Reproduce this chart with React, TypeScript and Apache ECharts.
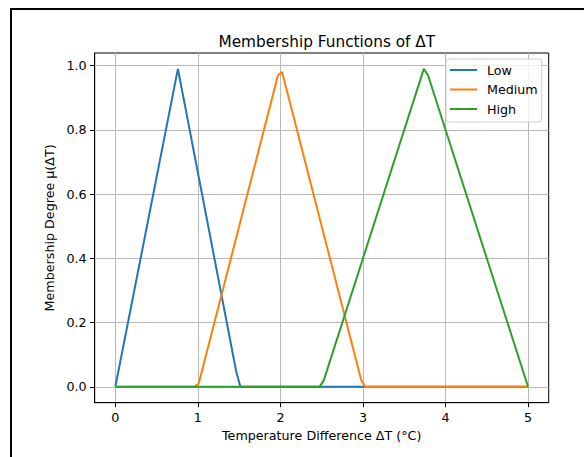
import React, { useEffect, useRef } from "react";
import * as echarts from "echarts";

const seriesNames = ["Low", "Medium", "High"];
const lowX = [0, 0.758, 1.465, 1.515, 5];
const lowY = [0, 0.99, 0.047, 0, 0];
const medX = [0, 0.96, 1.01, 1.97, 2.02, 2.98, 3.03, 5];
const medY = [0, 0, 0.01, 0.97, 0.98, 0.02, 0, 0];
const highX = [0, 2.475, 2.525, 3.737, 3.788, 5];
const highY = [0, 0, 0.02, 0.99, 0.97, 0];
const xTicks = [0, 1, 2, 3, 4, 5];
const yTicks = [0, 0.2, 0.4, 0.6, 0.8, 1.0];

const colors = ["#1f77b4", "#ff7f0e", "#2ca02c"];
const FONT = "DejaVu Sans";

function pairs(xs: number[], ys: number[]) {
  return xs.map((x, i) => [x, ys[i]]);
}

export default function App() {
  const ref = useRef<HTMLDivElement>(null);
  useEffect(() => {
    if (!ref.current) return;
    const chart = echarts.init(ref.current, null, { renderer: "svg" });
    const data = [pairs(lowX, lowY), pairs(medX, medY), pairs(highX, highY)];
    chart.setOption({
      animation: false,
      backgroundColor: "#fff",
      textStyle: { fontFamily: FONT },
      title: {
        text: "Membership Functions of ΔT",
        left: 321.8,
        textAlign: "center",
        top: 29,
        textStyle: { fontFamily: FONT, fontSize: 15.3, fontWeight: "normal", color: "#000" },
      },
      legend: {
        orient: "vertical",
        left: 446,
        top: 59,
        data: seriesNames,
        icon: "rect",
        itemWidth: 27,
        itemHeight: 2,
        itemGap: 5.5,
        padding: [4, 4, 6, 4],
        borderColor: "#cccccc",
        borderWidth: 1,
        borderRadius: 3,
        backgroundColor: "rgba(255,255,255,0.8)",
        textStyle: { fontFamily: FONT, fontSize: 12.7, color: "#000", lineHeight: 14, padding: [0, 0, 0, 5] },
      },
      grid: {
        left: 94.7,
        top: 53,
        right: 35.3,
        bottom: 54.3,
        show: true,
        borderColor: "#000",
        borderWidth: 1,
        containLabel: false,
      },
      xAxis: {
        type: "value",
        min: -0.25,
        max: 5.25,
        name: "Temperature Difference ΔT (°C)",
        nameLocation: "middle",
        nameGap: 24,
        nameTextStyle: { fontFamily: FONT, fontSize: 12.7, color: "#000" },
        axisLine: { show: true, onZero: false, lineStyle: { color: "#000", width: 1 } },
        axisTick: { show: true, inside: false, length: 4.5, customValues: xTicks, lineStyle: { color: "#000" } },
        axisLabel: {
          show: true,
          margin: 8,
          customValues: xTicks,
          formatter: (v: number) => String(v),
          fontFamily: FONT,
          fontSize: 12.7,
          color: "#000",
        },
        splitLine: { show: true, lineStyle: { color: "#b8b8b8", width: 1 } },
      },
      yAxis: {
        type: "value",
        min: -0.0495,
        max: 1.0395,
        name: "Membership Degree μ(ΔT)",
        nameLocation: "middle",
        nameGap: 35,
        nameTextStyle: { fontFamily: FONT, fontSize: 12.7, color: "#000" },
        axisLine: { show: true, onZero: false, lineStyle: { color: "#000", width: 1 } },
        axisTick: { show: true, inside: false, length: 4.5, customValues: yTicks, lineStyle: { color: "#000" } },
        axisLabel: {
          show: true,
          margin: 8,
          customValues: yTicks,
          formatter: (v: number) => v.toFixed(1),
          fontFamily: FONT,
          fontSize: 12.7,
          color: "#000",
        },
        splitLine: { show: true, lineStyle: { color: "#b8b8b8", width: 1 } },
      },
      graphic: [
        {
          type: "rect",
          shape: { x: 11, y: 9, width: 800, height: 700 },
          style: { fill: "none", stroke: "#000", lineWidth: 2 },
          silent: true,
        },
      ],
      series: seriesNames.map((name, i) => ({
        name,
        type: "line",
        data: data[i],
        symbol: "none",
        lineStyle: { color: colors[i], width: 2 },
        itemStyle: { color: colors[i] },
        z: 3 + i,
      })),
    });
    return () => chart.dispose();
  }, []);
  return (
    <div
      ref={ref}
      style={{ position: "fixed", left: 0, top: 0, width: 584, height: 457 }}
    />
  );
}
